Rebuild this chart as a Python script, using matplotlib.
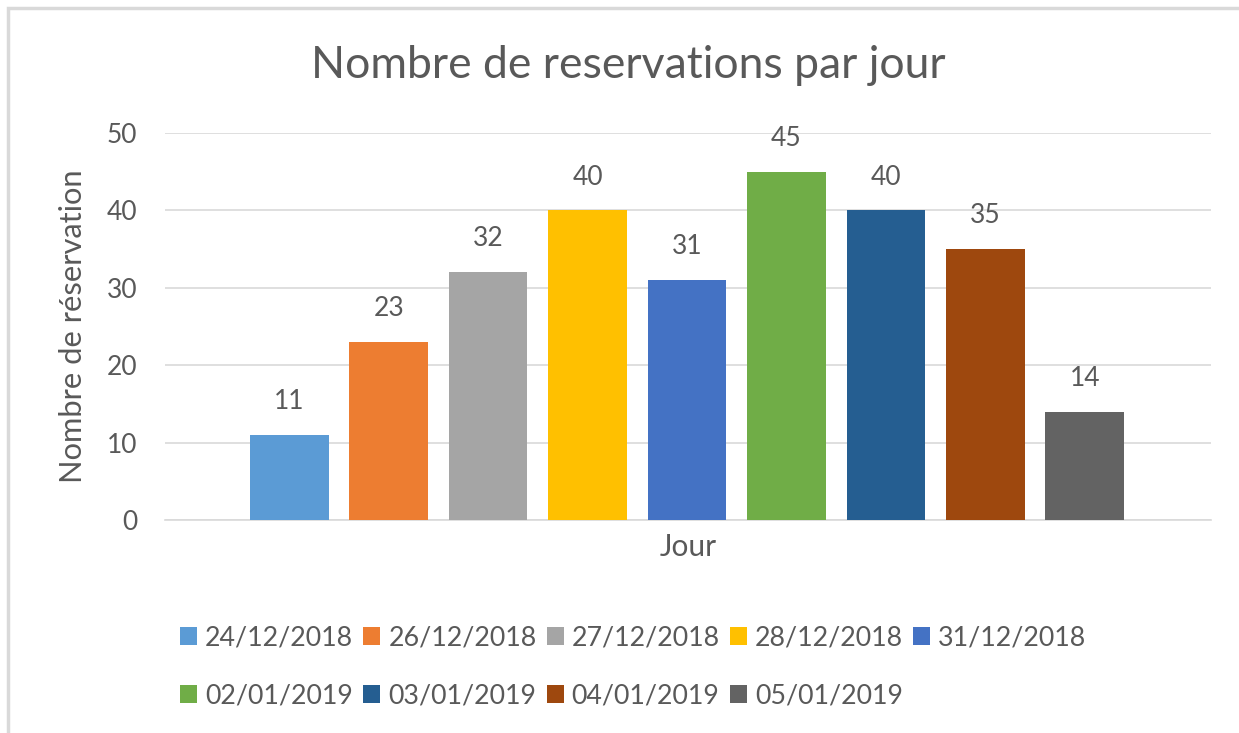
#!/usr/bin/env python3
"""Bar chart of reservations per day (Excel-style)."""

import matplotlib

matplotlib.use("Agg")
import matplotlib.pyplot as plt
from matplotlib.patches import Rectangle

days = [
    "24/12/2018", "26/12/2018", "27/12/2018", "28/12/2018", "31/12/2018",
    "02/01/2019", "03/01/2019", "04/01/2019", "05/01/2019",
]
reservations = [11, 23, 32, 40, 31, 45, 40, 35, 14]
colors = [
    "#5B9BD5", "#ED7D31", "#A5A5A5", "#FFC000", "#4472C4",
    "#70AD47", "#255E91", "#9E480E", "#636363",
]
y_ticks = [0, 10, 20, 30, 40, 50]

TEXT = "#595959"
GRID = "#D9D9D9"
plt.rcParams["font.family"] = ["Lato", "DejaVu Sans"]

W, H = 1239, 733
fig = plt.figure(figsize=(W / 100, H / 100), dpi=100)
fig.patches.append(
    Rectangle((8 / W, -0.1), 1.2, 1 - 8 / H + 0.1, transform=fig.transFigure,
              fill=False, edgecolor="#D9D9D9", linewidth=2.5)
)

ax = fig.add_axes([165 / W, 1 - 520 / H, (1211 - 165) / W, (520 - 133) / H])
positions = list(range(len(days)))
bars = ax.bar(positions, reservations, width=0.79, color=colors, zorder=3)
for pos, value in zip(positions, reservations):
    ax.annotate(f"{value}", (pos, value), xytext=(0, 24),
                textcoords="offset points", ha="center", va="center",
                fontsize=19, color=TEXT)

ax.set_xlim(-1.25, 9.27)
ax.set_ylim(0, 50)
ax.set_yticks(y_ticks)
ax.set_xticks([])
ax.tick_params(axis="y", length=0, pad=20, labelsize=19, labelcolor=TEXT)
ax.grid(axis="y", color=GRID, linewidth=1.2, zorder=0)
for side in ("top", "right", "left"):
    ax.spines[side].set_visible(False)
ax.spines["bottom"].set_color(GRID)
ax.spines["bottom"].set_linewidth(1.2)

fig.text(73.5 / W, 1 - 326 / H, "Nombre de réservation", rotation=90,
         ha="center", va="center", fontsize=22.2, color=TEXT)
fig.text(688 / W, 1 - 547 / H, "Jour", ha="center", va="center",
         fontsize=21.5, color=TEXT)
fig.text(628 / W, 1 - 65 / H, "Nombre de reservations par jour",
         ha="center", va="center", fontsize=32, color=TEXT)

order = [0, 5, 1, 6, 2, 7, 3, 8, 4]
legend = fig.legend(
    [bars[i] for i in order], [days[i] for i in order],
    ncol=5, loc="center left", bbox_to_anchor=(156 / W, 1 - 667 / H),
    frameon=False, fontsize=19.3, labelcolor=TEXT,
    handlelength=0.63, handleheight=0.63, handletextpad=0.3,
    columnspacing=0.38, labelspacing=1.22,
)

fig.savefig("out.png", dpi=100)
